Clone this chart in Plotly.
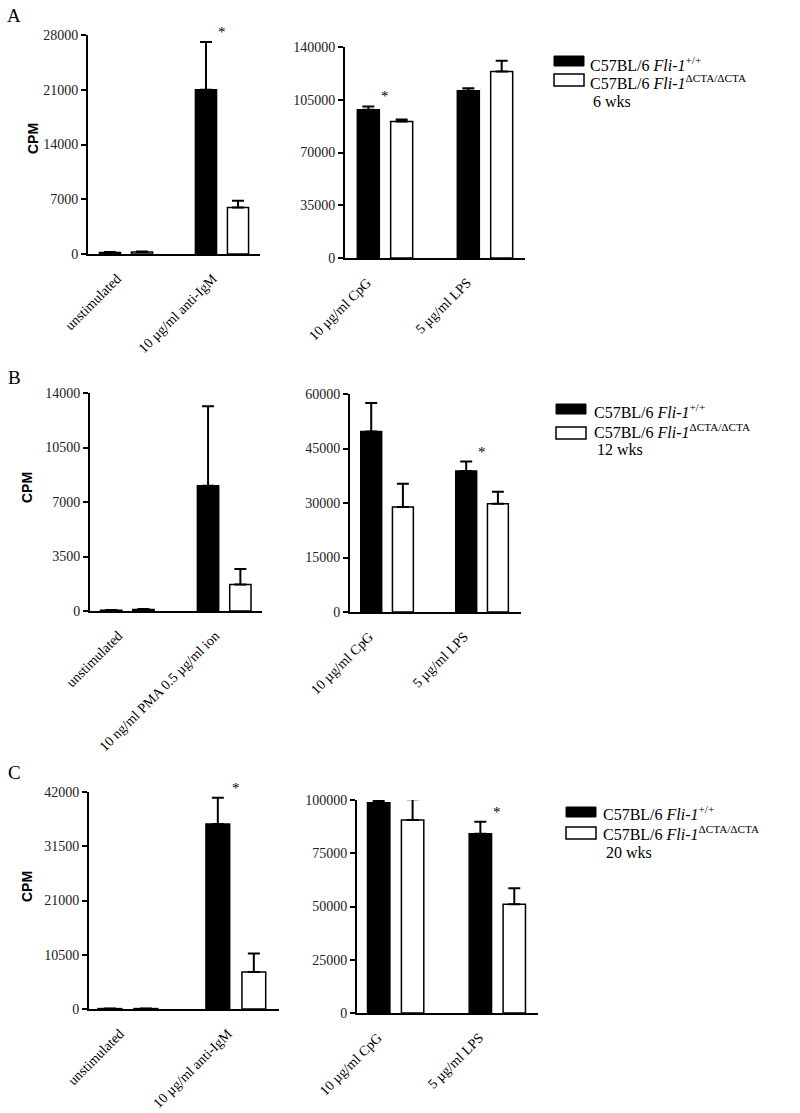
import plotly.graph_objects as go

W, H = 800, 1113
SERIF = "Liberation Serif"

# ---------------- data ----------------
series_names = ["C57BL/6 Fli-1+/+", "C57BL/6 Fli-1ΔCTA/ΔCTA"]

cats_A_left = ["unstimulated", "10 µg/ml anti-IgM"]
A_left_wt = [200, 21000]
A_left_wt_err = [60, 6100]
A_left_ko = [250, 5950]
A_left_ko_err = [60, 850]

cats_A_right = ["10 µg/ml CpG", "5 µg/ml LPS"]
A_right_wt = [98300, 111000]
A_right_wt_err = [2300, 1600]
A_right_ko = [90500, 123800]
A_right_ko_err = [1400, 7100]

cats_B_left = ["unstimulated", "10 ng/ml PMA 0.5 µg/ml ion"]
B_left_wt = [50, 8050]
B_left_wt_err = [20, 5100]
B_left_ko = [100, 1700]
B_left_ko_err = [30, 990]

cats_B_right = ["10 µg/ml CpG", "5 µg/ml LPS"]
B_right_wt = [49700, 38800]
B_right_wt_err = [7800, 2600]
B_right_ko = [28900, 29800]
B_right_ko_err = [6400, 3300]

cats_C_left = ["unstimulated", "10 µg/ml anti-IgM"]
C_left_wt = [80, 35800]
C_left_wt_err = [20, 5100]
C_left_ko = [80, 7140]
C_left_ko_err = [20, 3590]

cats_C_right = ["10 µg/ml CpG", "5 µg/ml LPS"]
C_right_wt = [98700, 84200]
C_right_wt_err = [800, 5600]
C_right_ko = [90600, 51000]
C_right_ko_err = [9700, 7600]

# significance markers: category index carrying an asterisk (above WT bar)
A_left_sig = [1]
A_right_sig = [0]
B_left_sig = []
B_right_sig = [1]
C_left_sig = [1]
C_right_sig = [1]

yticks_A_left = [0, 7000, 14000, 21000, 28000]
yticks_A_right = [0, 35000, 70000, 105000, 140000]
yticks_B_left = [0, 3500, 7000, 10500, 14000]
yticks_B_right = [0, 15000, 30000, 45000, 60000]
yticks_C_left = [0, 10500, 21000, 31500, 42000]
yticks_C_right = [0, 25000, 50000, 75000, 100000]

ages = ["6 wks", "12 wks", "20 wks"]
panel_letters = ["A", "B", "C"]

# ---------------- layout geometry (pixels) ----------------
panels = [
    # cats, wt, wterr, ko, koerr, ticks, sig, xpx, ypx(top,bottom), xrange, label shift
    (cats_A_left, A_left_wt, A_left_wt_err, A_left_ko, A_left_ko_err, yticks_A_left, A_left_sig,
     (88, 260), (35, 254), (-0.396, 1.396), -9),
    (cats_A_right, A_right_wt, A_right_wt_err, A_right_ko, A_right_ko_err, yticks_A_right, A_right_sig,
     (345, 525), (47, 258), (-0.40, 1.40), -18),
    (cats_B_left, B_left_wt, B_left_wt_err, B_left_ko, B_left_ko_err, yticks_B_left, B_left_sig,
     (90, 262), (393, 611), (-0.385, 1.39), -9),
    (cats_B_right, B_right_wt, B_right_wt_err, B_right_ko, B_right_ko_err, yticks_B_right, B_right_sig,
     (350, 521), (394, 612), (-0.39, 1.41), -18),
    (cats_C_left, C_left_wt, C_left_wt_err, C_left_ko, C_left_ko_err, yticks_C_left, C_left_sig,
     (89, 279), (792, 1009), (-0.36, 1.40), -8),
    (cats_C_right, C_right_wt, C_right_wt_err, C_right_ko, C_right_ko_err, yticks_C_right, C_right_sig,
     (357, 538), (800, 1013), (-0.38, 1.40), -18),
]

def px(x):
    return x / W

def py(y):
    return 1 - y / H

fig = go.Figure()
annotations = []
shapes = []

for i, (cats, wt, wterr, ko, koerr, ticks, sig, xp, yp, xr, lshift) in enumerate(panels):
    n = "" if i == 0 else str(i + 1)
    xa, ya = "x" + n, "y" + n
    for vals, errs, color, name in [(wt, wterr, "black", series_names[0]),
                                    (ko, koerr, "white", series_names[1])]:
        fig.add_trace(go.Bar(
            x=cats, y=vals, name=name, xaxis=xa, yaxis=ya, showlegend=False,
            marker=dict(color=color, line=dict(color="black", width=1.5)),
            error_y=dict(type="data", symmetric=False, array=errs,
                         arrayminus=[0] * len(errs), color="black",
                         thickness=2, width=6),
        ))
    fig.layout["xaxis" + n] = dict(
        domain=[px(xp[0]), px(xp[1])], anchor=ya, type="category",
        categoryorder="array", categoryarray=cats, range=list(xr),
        showline=True, linecolor="black", linewidth=2, ticks="",
        tickangle=-45, showgrid=False, zeroline=False, automargin=False,
        ticklabelshift=lshift, ticklabelstandoff=9,
        tickfont=dict(family=SERIF, size=14, color="black"),
    )
    fig.layout["yaxis" + n] = dict(
        domain=[py(yp[1]), py(yp[0])], anchor=xa, range=[0, ticks[-1]],
        tickvals=ticks, ticktext=[str(t) for t in ticks],
        showline=True, linecolor="black", linewidth=2,
        ticks="outside", ticklen=5, tickwidth=2, tickcolor="black",
        showgrid=False, zeroline=False, automargin=False,
        tickfont=dict(family=SERIF, size=14, color="#222222"),
    )
    for k in sig:
        annotations.append(dict(
            x=cats[k], y=wt[k] + wterr[k], xref=xa, yref=ya,
            text="*", showarrow=False, yanchor="bottom", yshift=0,
            font=dict(family=SERIF, size=15, color="black"),
        ))

# CPM labels and panel letters
cpm_pos = [(33, 139), (27, 488), (27, 887)]
letter_pos = [(14, 15), (14, 378), (14, 772)]
for (cx, cy) in cpm_pos:
    annotations.append(dict(x=px(cx), y=py(cy), xref="paper", yref="paper",
                            text="<b>CPM</b>", textangle=-90, showarrow=False,
                            font=dict(family="Liberation Sans", size=14, color="black"),
                            xanchor="center", yanchor="middle"))
for (lx, ly), letter in zip(letter_pos, panel_letters):
    annotations.append(dict(x=px(lx), y=py(ly), xref="paper", yref="paper",
                            text=letter, showarrow=False,
                            font=dict(family=SERIF, size=19, color="black"),
                            xanchor="center", yanchor="middle"))

# legends (box + text), one per row
legend_pos = [  # box left, black box top, white box top, text x, line1 y, line2 y, line3 y
    (554, 56, 74, 588, 64, 82, 101),
    (556, 404, 427, 592, 411, 431, 449),
    (566, 807, 827, 601, 813, 833, 852),
]
leg_text1 = "C57BL/6 <i>Fli-1</i><sup>+/+</sup>"
leg_text2 = "C57BL/6 <i>Fli-1</i><sup>ΔCTA/ΔCTA</sup>"
for (bx, by1, by2, tx, l1, l2, l3), age in zip(legend_pos, ages):
    shapes.append(dict(type="rect", xref="paper", yref="paper",
                       x0=px(bx), x1=px(bx + 30), y0=py(by1 + 10), y1=py(by1),
                       fillcolor="black", line=dict(color="black", width=1)))
    shapes.append(dict(type="rect", xref="paper", yref="paper",
                       x0=px(bx), x1=px(bx + 30), y0=py(by2 + 12), y1=py(by2),
                       fillcolor="white", line=dict(color="black", width=1.5)))
    for txt, yy, xx in [(leg_text1, l1, tx), (leg_text2, l2, tx), (age, l3, tx + 3)]:
        annotations.append(dict(x=px(xx), y=py(yy), xref="paper", yref="paper",
                                text=txt, showarrow=False, xanchor="left",
                                yanchor="middle",
                                font=dict(family=SERIF, size=16, color="black")))

fig.update_layout(
    template="none",
    width=W, height=H, margin=dict(l=0, r=0, t=0, b=0, autoexpand=False),
    paper_bgcolor="white", plot_bgcolor="white",
    font=dict(family=SERIF, color="black"),
    barmode="group", bargap=0.333, bargroupgap=0.34,
    showlegend=False, annotations=annotations, shapes=shapes,
)

fig.write_html("out.html", config={"displayModeBar": False},
               post_script="document.body.style.margin='0px';document.body.style.overflow='hidden';")
